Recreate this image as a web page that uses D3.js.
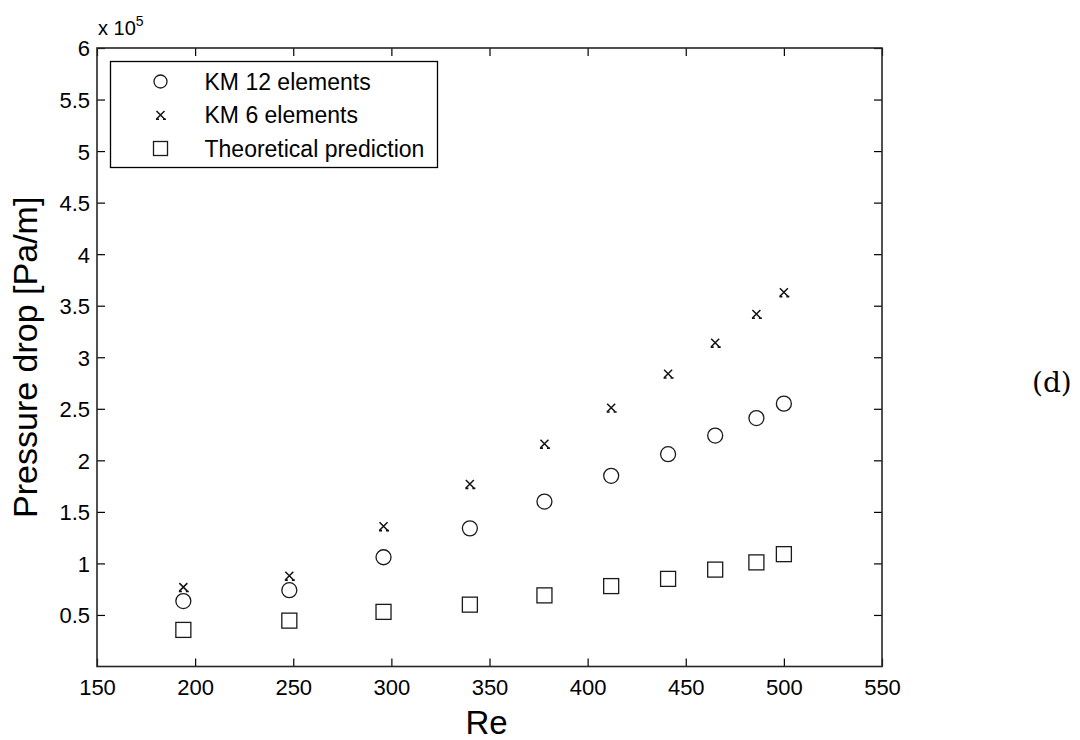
<!DOCTYPE html>
<html>
<head>
<meta charset="utf-8">
<script src="https://cdn.jsdelivr.net/npm/d3@7"></script>
<style>
  html, body { margin: 0; padding: 0; background: #fff; }
  svg { display: block; }
  text { font-family: "Liberation Sans", Arial, sans-serif; fill: #000; }
</style>
</head>
<body>
<svg id="chart" width="1080" height="740"></svg>
<script>
// Pressure drop per unit length versus Reynolds number
const reynolds   = [194, 248, 296, 340, 378, 412, 441, 465, 486, 500];
const km12       = [63500, 74000, 106000, 134000, 160000, 185000, 206000, 224000, 241000, 255000];
const km6        = [77000, 88000, 136000, 177000, 216000, 251000, 284000, 314000, 342000, 363000];
const theory     = [35500, 44500, 53000, 60000, 69000, 78000, 85000, 94000, 101000, 109000];

const xTicks = [150, 200, 250, 300, 350, 400, 450, 500, 550];
const yTicks = [50000, 100000, 150000, 200000, 250000, 300000, 350000, 400000, 450000, 500000, 550000, 600000];

const seriesNames = ["KM 12 elements", "KM 6 elements", "Theoretical prediction"];
const seriesShapes = ["circle", "cross", "square"];
const seriesValues = [km12, km6, theory];

const svg = d3.select("#chart");
const plot = { left: 97, right: 882, top: 48, bottom: 666.5 };

const x = d3.scaleLinear().domain([150, 550]).range([plot.left, plot.right]);
const y = d3.scaleLinear().domain([0, 600000]).range([plot.bottom, plot.top]);

const tickLen = 8;
const fmtY = v => d3.format("~g")(v / 1e5);

// axes: labels outside, ticks pointing inwards (bottom/left), mirrored ticks on top/right
const xAxis = d3.axisBottom(x).tickValues(xTicks).tickSizeInner(-tickLen).tickSizeOuter(0).tickPadding(13);
const yAxis = d3.axisLeft(y).tickValues(yTicks).tickFormat(fmtY).tickSizeInner(-tickLen).tickSizeOuter(0).tickPadding(7);
const xTop = d3.axisTop(x).tickValues(xTicks).tickSizeInner(-tickLen).tickSizeOuter(0).tickFormat("");
const yRight = d3.axisRight(y).tickValues(yTicks).tickSizeInner(-tickLen).tickSizeOuter(0).tickFormat("");

function styleAxis(g) {
  g.select(".domain").remove();
  g.selectAll(".tick line").attr("stroke", "#000").attr("stroke-width", 1.2);
  g.selectAll(".tick text").style("font-size", "22px").attr("fill", "#000");
}

svg.append("g").attr("transform", `translate(0,${plot.bottom})`).call(xAxis).call(styleAxis);
svg.append("g").attr("transform", `translate(${plot.left},0)`).call(yAxis).call(styleAxis)
  .selectAll(".tick text").attr("dy", "0.36em");
svg.append("g").attr("transform", `translate(0,${plot.top})`).call(xTop).call(styleAxis);
svg.append("g").attr("transform", `translate(${plot.right},0)`).call(yRight).call(styleAxis);

// frame
svg.append("rect")
  .attr("x", plot.left).attr("y", plot.top)
  .attr("width", plot.right - plot.left).attr("height", plot.bottom - plot.top)
  .attr("fill", "none").attr("stroke", "#262626").attr("stroke-width", 1.6);

// exponent label
const expo = svg.append("text").attr("x", 98).attr("y", 35).style("font-size", "20px");
expo.append("tspan").text("x 10");
expo.append("tspan").attr("dy", -9).style("font-size", "14px").text("5");

// axis titles
svg.append("text")
  .attr("x", (plot.left + plot.right) / 2 - 3).attr("y", 734)
  .attr("text-anchor", "middle").style("font-size", "33px").text("Re");

svg.append("text")
  .attr("transform", `translate(37,${(plot.top + plot.bottom) / 2}) rotate(-90)`)
  .attr("text-anchor", "middle").style("font-size", "34px").text("Pressure drop [Pa/m]");

svg.append("text")
  .attr("x", 1032).attr("y", 392)
  .style("font-family", "'DejaVu Serif', serif").style("font-size", "28px").text("(d)");

// marker drawing
function drawMarker(g, shape) {
  if (shape === "circle") {
    g.append("circle").attr("r", 7.5).attr("fill", "none").attr("stroke", "#1a1a1a").attr("stroke-width", 1.3);
  } else if (shape === "square") {
    g.append("rect").attr("x", -7.5).attr("y", -7.5).attr("width", 15).attr("height", 15)
      .attr("fill", "none").attr("stroke", "#1a1a1a").attr("stroke-width", 1.3);
  } else {
    g.append("path").attr("d", "M-4,-4L4,4M-4,4L4,-4")
      .attr("fill", "none").attr("stroke", "#111").attr("stroke-width", 1.5);
    g.append("path").attr("d", "M-4.5,4.3L-1.5,4.3M2.5,4.3L5.5,4.3")
      .attr("fill", "none").attr("stroke", "#111").attr("stroke-width", 1.6);
  }
}

const marks = svg.append("g");
seriesValues.forEach((vals, si) => {
  const grp = marks.append("g");
  reynolds.forEach((re, i) => {
    const g = grp.append("g").attr("transform", `translate(${x(re)},${y(vals[i])})`);
    drawMarker(g, seriesShapes[si]);
  });
});

// legend
const legend = svg.append("g").attr("transform", "translate(110.5,61.5)");
legend.append("rect").attr("width", 327).attr("height", 106)
  .attr("fill", "#fff").attr("stroke", "#000").attr("stroke-width", 1.3);
seriesNames.forEach((name, i) => {
  const row = legend.append("g").attr("transform", `translate(0,${20 + i * 33.5})`);
  drawMarker(row.append("g").attr("transform", "translate(50,0)").attr("class", "lm" + i), seriesShapes[i]);
  row.append("text").attr("x", 94).attr("dy", "0.36em").style("font-size", "23px").text(name);
});
legend.select(".lm0 circle").attr("r", 6.5);
legend.select(".lm2 rect").attr("x", -7).attr("y", -7).attr("width", 14).attr("height", 14);
</script>
</body>
</html>
